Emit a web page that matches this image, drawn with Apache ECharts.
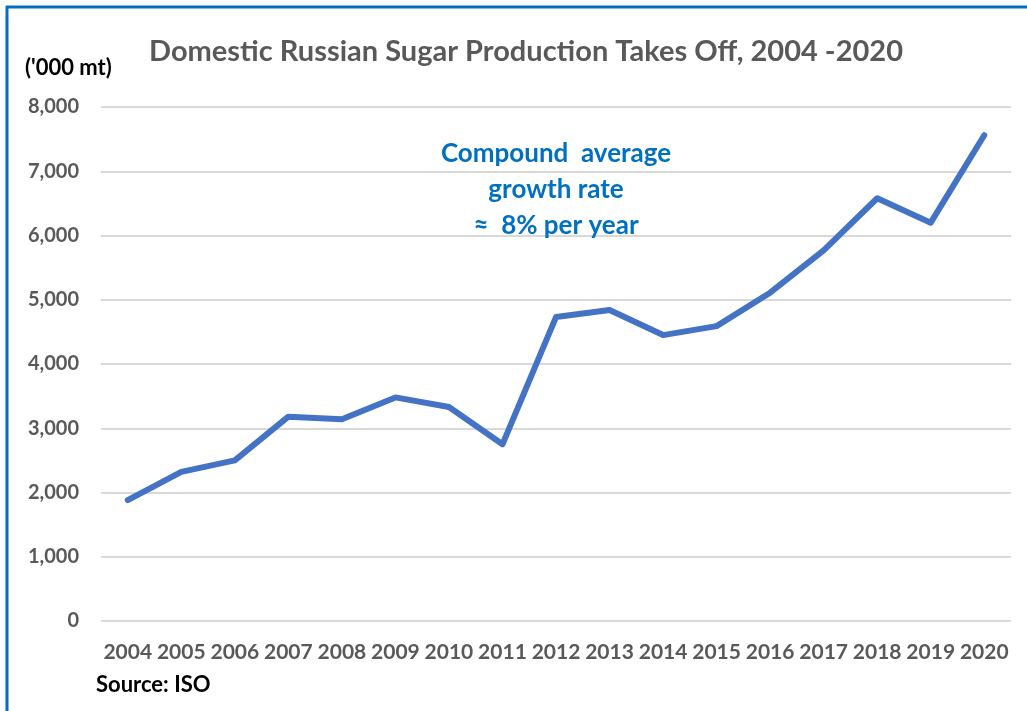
<!DOCTYPE html>
<html>
<head>
<meta charset="utf-8">
<script src="https://cdn.jsdelivr.net/npm/echarts@6/dist/echarts.min.js"></script>
<style>
html,body{margin:0;padding:0;background:#fff;}
#chart{width:1027px;height:711px;}
</style>
</head>
<body>
<div id="chart"></div>
<script>
const years = ['2004','2005','2006','2007','2008','2009','2010','2011','2012','2013','2014','2015','2016','2017','2018','2019','2020'];
const production = [1880, 2320, 2500, 3180, 3140, 3480, 3330, 2750, 4730, 4840, 4450, 4590, 5110, 5770, 6580, 6200, 7560];
const titleText = 'Domestic Russian Sugar Production Takes Off, 2004 -2020';
const unitText = "('000 mt)";
const sourceText = 'Source: ISO';
const noteLines = ['Compound  average', 'growth rate', '≈  8% per year'];

const FONT = 'Lato, "Open Sans", sans-serif';
const chart = echarts.init(document.getElementById('chart'));
chart.setOption({
  backgroundColor: '#ffffff',
  animation: false,
  title: [
    { text: titleText, left: 521, top: 32, textAlign: 'center', padding: 5,
      textStyle: { fontFamily: FONT, fontSize: 29, fontWeight: 'bold', color: '#595959' } },
    { text: unitText, left: 20, top: 52, padding: 5,
      textStyle: { fontFamily: FONT, fontSize: 22, fontWeight: 'bold', color: '#000000' } },
    { text: sourceText, left: 91, top: 669, padding: 5,
      textStyle: { fontFamily: FONT, fontSize: 22, fontWeight: 'bold', color: '#000000' } },
    { text: noteLines.join('\n'), left: 551, top: 131, textAlign: 'center', padding: 5,
      textStyle: { fontFamily: FONT, fontSize: 26, fontWeight: 'bold', color: '#0070C0', lineHeight: 36, align: 'center' } }
  ],
  graphic: [
    { type: 'line', shape: { x1: 6, y1: 7, x2: 1027, y2: 7 }, style: { stroke: '#0070C0', lineWidth: 3 } },
    { type: 'line', shape: { x1: 7, y1: 6, x2: 7, y2: 711 }, style: { stroke: '#0070C0', lineWidth: 3 } }
  ],
  grid: { left: 101, right: 16, top: 107, bottom: 90, containLabel: false },
  xAxis: {
    type: 'category',
    data: years,
    boundaryGap: true,
    axisLine: { show: false },
    axisTick: { show: false },
    axisLabel: { fontFamily: FONT, fontSize: 21, fontWeight: 'bold', color: '#595959', margin: 21, interval: 0 }
  },
  yAxis: {
    type: 'value',
    min: 0, max: 8000, interval: 1000,
    axisLine: { show: false },
    axisTick: { show: false },
    splitLine: { lineStyle: { color: '#d9d9d9', width: 2 } },
    axisLabel: {
      fontFamily: FONT, fontSize: 20, fontWeight: 'bold', color: '#595959', margin: 22,
      formatter: v => v.toLocaleString('en-US')
    }
  },
  series: [{
    type: 'line',
    data: production,
    symbol: 'none',
    lineStyle: { color: '#4472C4', width: 6, join: 'round', cap: 'round' },
    itemStyle: { color: '#4472C4' }
  }]
});
</script>
</body>
</html>
